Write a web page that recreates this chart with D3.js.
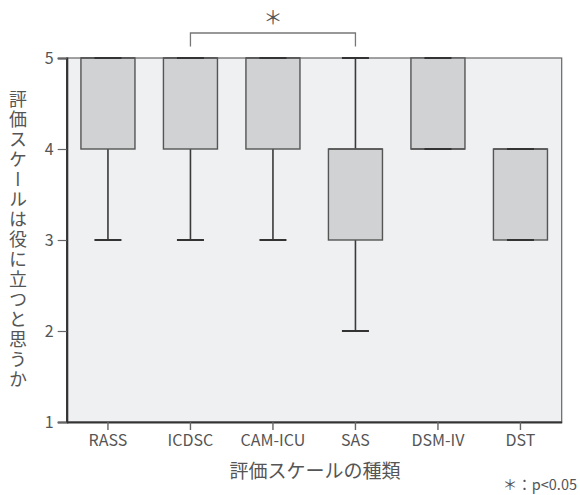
<!DOCTYPE html>
<html><head><meta charset="utf-8">
<script src="https://cdn.jsdelivr.net/npm/d3@7"></script>
<style>
body{margin:0;background:#fff;}
text{font-family:"Noto Sans CJK JP","Noto Sans",sans-serif;fill:#555;}
</style></head>
<body><svg id="c" width="580" height="495"></svg>
<script>
const categories = ["RASS","ICDSC","CAM-ICU","SAS","DSM-IV","DST"];
const mins    = [3,3,3,2,4,3];
const q1s     = [4,4,4,3,4,3];
const medians = [5,5,5,4,4,4];
const q3s     = [5,5,5,4,5,4];
const maxs    = [5,5,5,5,5,4];
const yTicks  = [1,2,3,4,5];
const sigPair = ["ICDSC","SAS"];
const yTitle = "評価スケールは役に立つと思うか";
const xTitle = "評価スケールの種類";
const note = "＊：p<0.05";

const svg = d3.select("#c");
const L=66.7, R=561.7, T=58, B=422;
const x = d3.scaleBand().domain(categories).range([L,R]).padding(0);
const y = d3.scaleLinear().domain([1,5]).range([B,T]);
const bw = x.bandwidth()*0.655, cw = bw/2;

svg.append("rect").attr("x",L).attr("y",T).attr("width",R-L).attr("height",B-T)
  .attr("fill","#eff0f2").attr("stroke","#666").attr("stroke-width",1.2);

const data = categories.map((c,i)=>({c,min:mins[i],q1:q1s[i],med:medians[i],q3:q3s[i],max:maxs[i]}));
const g = svg.append("g").selectAll("g").data(data).join("g")
  .attr("transform",d=>`translate(${x(d.c)+x.bandwidth()/2},0)`);
g.append("line").attr("x1",0).attr("x2",0).attr("y1",d=>y(d.max)).attr("y2",d=>y(d.q3))
  .attr("stroke","#3a3a3a").attr("stroke-width",1.6);
g.append("line").attr("x1",0).attr("x2",0).attr("y1",d=>y(d.q1)).attr("y2",d=>y(d.min))
  .attr("stroke","#3a3a3a").attr("stroke-width",1.6);
g.append("rect").attr("x",-bw/2).attr("width",bw).attr("y",d=>y(d.q3)).attr("height",d=>y(d.q1)-y(d.q3))
  .attr("fill","#d1d2d4").attr("stroke","#555").attr("stroke-width",1.4);
g.append("line").attr("x1",-bw/2).attr("x2",bw/2).attr("y1",d=>y(d.med)).attr("y2",d=>y(d.med))
  .attr("stroke","#555").attr("stroke-width",1.4);
g.append("line").attr("x1",-cw/2).attr("x2",cw/2).attr("y1",d=>y(d.max)).attr("y2",d=>y(d.max))
  .attr("stroke","#333").attr("stroke-width",2);
g.append("line").attr("x1",-cw/2).attr("x2",cw/2).attr("y1",d=>y(d.min)).attr("y2",d=>y(d.min))
  .attr("stroke","#333").attr("stroke-width",2);

const ya = svg.append("g").attr("transform",`translate(${L},0)`)
  .call(d3.axisLeft(y).tickValues(yTicks).tickFormat(d3.format("d")).tickSize(9).tickPadding(4));
ya.select(".domain").attr("stroke","#333").attr("stroke-width",2.2);
ya.selectAll(".tick line").attr("stroke","#666").attr("stroke-width",1.2);
ya.selectAll(".tick text").attr("font-size",16).style("fill","#555");

const xa = svg.append("g").attr("transform",`translate(0,${B})`)
  .call(d3.axisBottom(x).tickSize(8).tickPadding(5).tickSizeOuter(0));
xa.select(".domain").attr("stroke","#333").attr("stroke-width",2.2);
xa.selectAll(".tick line").attr("stroke","#666").attr("stroke-width",1.4);
xa.selectAll(".tick text").attr("font-size",16).style("fill","#555");

const bx1 = x(sigPair[0])+x.bandwidth()/2, bx2 = x(sigPair[1])+x.bandwidth()/2;
svg.append("path").attr("d",`M${bx1},46.5V33H${bx2}V46.5`).attr("fill","none")
  .attr("stroke","#777").attr("stroke-width",1.3);
svg.append("text").attr("x",(bx1+bx2)/2).attr("y",25).attr("text-anchor","middle")
  .attr("font-size",19).text("＊");

svg.append("text").attr("x",18).attr("y",(T+B)/2).attr("text-anchor","middle")
  .attr("font-size",18).style("writing-mode","vertical-rl").style("text-orientation","upright")
  .style("letter-spacing","2px").text(yTitle);
svg.append("text").attr("x",315).attr("y",478).attr("text-anchor","middle")
  .attr("font-size",19).text(xTitle);
svg.append("text").attr("x",577).attr("y",490).attr("text-anchor","end")
  .attr("font-size",14.5).text(note);
</script></body></html>
